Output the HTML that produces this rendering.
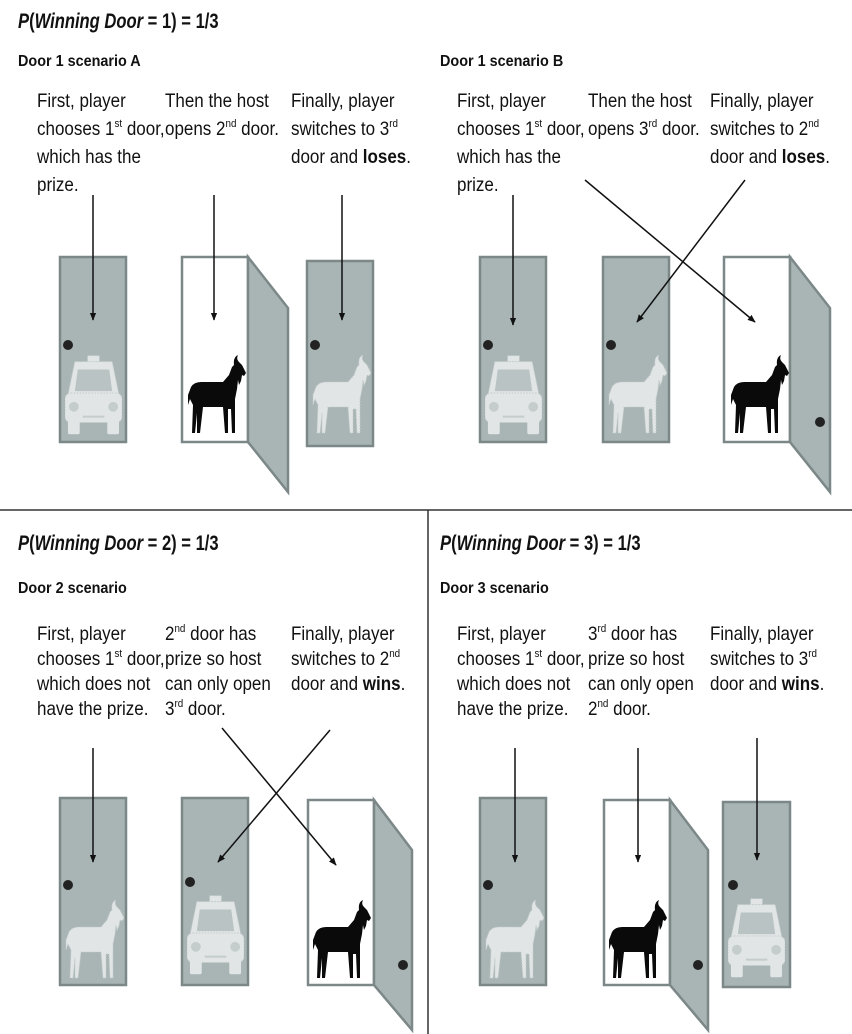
<!DOCTYPE html>
<html><head><meta charset="utf-8"><style>
html,body{margin:0;padding:0;background:#fff;}
svg{display:block;}
text{font-family:"Liberation Sans Narrow","Liberation Sans",sans-serif;fill:#111;}
.t{font-size:19px;}
.h{font-size:21px;font-weight:bold;}
.s{font-size:16px;font-weight:bold;}
.sup{font-size:11px;}
</style></head><body>
<svg width="852" height="1034" viewBox="0 0 852 1034" xmlns="http://www.w3.org/2000/svg">
<defs>
<marker id="ah" viewBox="0 0 10 10" refX="9" refY="5" markerWidth="8" markerHeight="10" orient="auto" markerUnits="userSpaceOnUse">
<path d="M0,1 L10,5 L0,9 Z" fill="#111"/></marker>
<symbol id="goat" viewBox="0 0 62 82">
<path d="M3,42 L6,34 Q9,29 16,29 L38,29 L44,22 L47,14 L49,12 Q48,4 53,2 Q51,6 54,9 L57,12 L61,20 L59,23 L57,22 L56,28 L54,32 L53,27 L52,36 L50,46 L50,80 L47,80 L46,56 L43,56 L43,80 L40,80 L38,54 L18,54 L15,80 L12,80 L12,60 L10,80 L7,80 L8,52 L5,46 L3,52 Z"/>
</symbol>
<symbol id="car" viewBox="0 0 58 80">
<rect x="23" y="0" width="12" height="6" fill="#e1e5e5" stroke="#c4cccc" stroke-dasharray="1.5 1.5"/>
<path d="M10,6 L48,6 L55,40 L3,40 Z" fill="#e1e5e5" stroke="#c4cccc" stroke-dasharray="1.5 1.5"/>
<rect x="0" y="38" width="58" height="30" rx="6" fill="#e1e5e5" stroke="#c4cccc" stroke-dasharray="1.5 1.5"/>
<rect x="3" y="62" width="12" height="18" rx="2" fill="#e1e5e5"/>
<rect x="43" y="62" width="12" height="18" rx="2" fill="#e1e5e5"/>
<path d="M13,14 L45,14 L48,36 L10,36 Z" fill="#b9c3c3"/>
<circle cx="9" cy="52" r="5" fill="#c4cccc"/>
<circle cx="49" cy="52" r="5" fill="#c4cccc"/>
<line x1="18" y1="62" x2="40" y2="62" stroke="#c4cccc" stroke-width="2"/>
</symbol>
</defs>
<g fill="#a9b4b4" stroke="#7c8888" stroke-width="2.5">
<rect x="60" y="257" width="66" height="185"/>
<rect x="182" y="257" width="66" height="185" fill="#fff"/>
<polygon points="248,257 288,308 288,492 248,442"/>
<rect x="307" y="261" width="66" height="185"/>
<rect x="480" y="257" width="66" height="185"/>
<rect x="603" y="257" width="66" height="185"/>
<rect x="724" y="257" width="66" height="185" fill="#fff"/>
<polygon points="790,257 830,308 830,492 790,442"/>
<rect x="60" y="798" width="66" height="187"/>
<rect x="182" y="798" width="66" height="187"/>
<rect x="308" y="800" width="66" height="185" fill="#fff"/>
<polygon points="374,800 412,850 412,1030 374,985"/>
<rect x="480" y="798" width="66" height="187"/>
<rect x="604" y="800" width="66" height="185" fill="#fff"/>
<polygon points="670,800 708,850 708,1030 670,985"/>
<rect x="723" y="802" width="67" height="185"/>
</g>
<g fill="#222">
<circle cx="68" cy="345" r="5"/><circle cx="315" cy="345" r="5"/>
<circle cx="488" cy="345" r="5"/><circle cx="611" cy="345" r="5"/><circle cx="820" cy="422" r="5"/>
<circle cx="68" cy="885" r="5"/><circle cx="190" cy="882" r="5"/><circle cx="403" cy="965" r="5"/>
<circle cx="488" cy="885" r="5"/><circle cx="698" cy="965" r="5"/><circle cx="733" cy="885" r="5"/>
</g>
<use href="#car" x="65" y="355" width="57" height="80"/>
<use href="#car" x="485" y="355" width="57" height="80"/>
<use href="#car" x="187" y="895" width="57" height="80"/>
<use href="#car" x="728" y="898" width="57" height="80"/>
<g fill="#0a0a0a">
<use href="#goat" x="185" y="353" width="62" height="82"/>
<use href="#goat" x="728" y="353" width="62" height="82"/>
<use href="#goat" x="310" y="898" width="62" height="82"/>
<use href="#goat" x="606" y="898" width="62" height="82"/>
</g>
<g fill="#e1e5e5" stroke="#c4cccc" stroke-dasharray="1.5 1.5">
<use href="#goat" x="310" y="353" width="62" height="82"/>
<use href="#goat" x="606" y="353" width="62" height="82"/>
<use href="#goat" x="63" y="898" width="62" height="82"/>
<use href="#goat" x="483" y="898" width="62" height="82"/>
</g>
<g stroke="#111" stroke-width="1.5" marker-end="url(#ah)">
<line x1="93" y1="195" x2="93" y2="320"/>
<line x1="214" y1="195" x2="214" y2="320"/>
<line x1="342" y1="195" x2="342" y2="320"/>
<line x1="513" y1="195" x2="513" y2="325"/>
<line x1="585" y1="180" x2="755" y2="322"/>
<line x1="745" y1="180" x2="637" y2="322"/>
<line x1="93" y1="748" x2="93" y2="862"/>
<line x1="222" y1="728" x2="336" y2="865"/>
<line x1="330" y1="730" x2="218" y2="862"/>
<line x1="515" y1="748" x2="515" y2="862"/>
<line x1="638" y1="748" x2="638" y2="862"/>
<line x1="757" y1="738" x2="757" y2="860"/>
</g>
<line x1="0" y1="510" x2="852" y2="510" stroke="#333" stroke-width="1.5"/>
<line x1="428" y1="510" x2="428" y2="1034" stroke="#333" stroke-width="1.5"/>

<text class="h" transform="translate(18,28) scale(0.79,1)"><tspan font-style="italic">P</tspan>(<tspan font-style="italic">Winning Door</tspan> = 1) = 1/3</text>
<text class="s" transform="translate(18,66) scale(0.9,1)">Door 1 scenario A</text>
<text class="s" transform="translate(440,66) scale(0.9,1)">Door 1 scenario B</text>
<g class="t">
<text transform="translate(37,107) scale(0.895,1)">First, player</text>
<text transform="translate(37,135) scale(0.895,1)">chooses 1<tspan class="sup" dy="-8">st</tspan><tspan dy="8"> door,</tspan></text>
<text transform="translate(37,163) scale(0.895,1)">which has the</text>
<text transform="translate(37,191) scale(0.895,1)">prize.</text>
<text transform="translate(165,107) scale(0.895,1)">Then the host</text>
<text transform="translate(165,135) scale(0.895,1)">opens 2<tspan class="sup" dy="-8">nd</tspan><tspan dy="8"> door.</tspan></text>
<text transform="translate(291,107) scale(0.895,1)">Finally, player</text>
<text transform="translate(291,135) scale(0.895,1)">switches to 3<tspan class="sup" dy="-8">rd</tspan></text>
<text transform="translate(291,163) scale(0.895,1)">door and <tspan font-weight="bold">loses</tspan>.</text>
<text transform="translate(457,107) scale(0.895,1)">First, player</text>
<text transform="translate(457,135) scale(0.895,1)">chooses 1<tspan class="sup" dy="-8">st</tspan><tspan dy="8"> door,</tspan></text>
<text transform="translate(457,163) scale(0.895,1)">which has the</text>
<text transform="translate(457,191) scale(0.895,1)">prize.</text>
<text transform="translate(588,107) scale(0.895,1)">Then the host</text>
<text transform="translate(588,135) scale(0.895,1)">opens 3<tspan class="sup" dy="-8">rd</tspan><tspan dy="8"> door.</tspan></text>
<text transform="translate(710,107) scale(0.895,1)">Finally, player</text>
<text transform="translate(710,135) scale(0.895,1)">switches to 2<tspan class="sup" dy="-8">nd</tspan></text>
<text transform="translate(710,163) scale(0.895,1)">door and <tspan font-weight="bold">loses</tspan>.</text>
</g>
<text class="h" transform="translate(18,550) scale(0.79,1)"><tspan font-style="italic">P</tspan>(<tspan font-style="italic">Winning Door</tspan> = 2) = 1/3</text>
<text class="h" transform="translate(440,550) scale(0.79,1)"><tspan font-style="italic">P</tspan>(<tspan font-style="italic">Winning Door</tspan> = 3) = 1/3</text>
<text class="s" transform="translate(18,593) scale(0.9,1)">Door 2 scenario</text>
<text class="s" transform="translate(440,593) scale(0.9,1)">Door 3 scenario</text>
<g class="t">
<text transform="translate(37,640) scale(0.895,1)">First, player</text>
<text transform="translate(37,665) scale(0.895,1)">chooses 1<tspan class="sup" dy="-8">st</tspan><tspan dy="8"> door,</tspan></text>
<text transform="translate(37,690) scale(0.895,1)">which does not</text>
<text transform="translate(37,715) scale(0.895,1)">have the prize.</text>
<text transform="translate(165,640) scale(0.895,1)">2<tspan class="sup" dy="-8">nd</tspan><tspan dy="8"> door has</tspan></text>
<text transform="translate(165,665) scale(0.895,1)">prize so host</text>
<text transform="translate(165,690) scale(0.895,1)">can only open</text>
<text transform="translate(165,715) scale(0.895,1)">3<tspan class="sup" dy="-8">rd</tspan><tspan dy="8"> door.</tspan></text>
<text transform="translate(291,640) scale(0.895,1)">Finally, player</text>
<text transform="translate(291,665) scale(0.895,1)">switches to 2<tspan class="sup" dy="-8">nd</tspan></text>
<text transform="translate(291,690) scale(0.895,1)">door and <tspan font-weight="bold">wins</tspan>.</text>
<text transform="translate(457,640) scale(0.895,1)">First, player</text>
<text transform="translate(457,665) scale(0.895,1)">chooses 1<tspan class="sup" dy="-8">st</tspan><tspan dy="8"> door,</tspan></text>
<text transform="translate(457,690) scale(0.895,1)">which does not</text>
<text transform="translate(457,715) scale(0.895,1)">have the prize.</text>
<text transform="translate(588,640) scale(0.895,1)">3<tspan class="sup" dy="-8">rd</tspan><tspan dy="8"> door has</tspan></text>
<text transform="translate(588,665) scale(0.895,1)">prize so host</text>
<text transform="translate(588,690) scale(0.895,1)">can only open</text>
<text transform="translate(588,715) scale(0.895,1)">2<tspan class="sup" dy="-8">nd</tspan><tspan dy="8"> door.</tspan></text>
<text transform="translate(710,640) scale(0.895,1)">Finally, player</text>
<text transform="translate(710,665) scale(0.895,1)">switches to 3<tspan class="sup" dy="-8">rd</tspan></text>
<text transform="translate(710,690) scale(0.895,1)">door and <tspan font-weight="bold">wins</tspan>.</text>
</g>
</svg>
</body></html>
